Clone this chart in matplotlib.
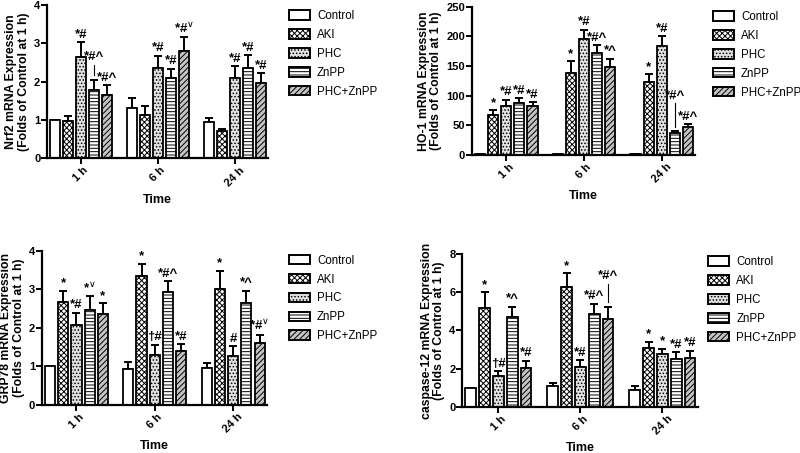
import matplotlib.pyplot as plt
import numpy as np
from matplotlib.patches import Patch

plt.rcParams['font.family'] = ['Liberation Sans', 'DejaVu Sans']
plt.rcParams['hatch.linewidth'] = 0.7

times = ['1 h', '6 h', '24 h']
groups = ['Control', 'AKI', 'PHC', 'ZnPP', 'PHC+ZnPP']

# values: rows = time points, columns = groups
nrf2 = [[1.0, 0.97, 2.65, 1.78, 1.65],
        [1.30, 1.13, 2.35, 2.10, 2.80],
        [0.93, 0.70, 2.10, 2.35, 1.97]]
nrf2_err = [[0.0, 0.13, 0.37, 0.26, 0.25],
            [0.26, 0.24, 0.32, 0.24, 0.36],
            [0.13, 0.07, 0.30, 0.34, 0.25]]
nrf2_sig = [['', '', '*#', '*#^', '*#^'],
            ['', '', '*#', '*#', '*#v'],
            ['', '', '*#', '*#', '*#']]

ho1 = [[1, 67, 83, 87, 82],
       [1, 139, 196, 172, 148],
       [1, 123, 183, 37, 47]]
ho1_err = [[0, 8, 10, 9, 7],
           [0, 19, 15, 13, 14],
           [0, 13, 17, 3, 5]]
ho1_sig = [['', '*', '*#', '*#', '*#'],
           ['', '*', '*#', '*#^', '*^'],
           ['', '*', '*#', '*#^', '*#^']]

grp78 = [[1.0, 2.67, 2.08, 2.47, 2.35],
         [0.93, 3.35, 1.30, 2.93, 1.40],
         [0.97, 3.02, 1.27, 2.66, 1.62]]
grp78_err = [[0.0, 0.29, 0.32, 0.36, 0.29],
             [0.19, 0.32, 0.26, 0.28, 0.18],
             [0.11, 0.46, 0.25, 0.31, 0.20]]
grp78_sig = [['', '*', '*#', '*v', '*'],
             ['', '*', '†#', '*#^', '*#'],
             ['', '*', '#', '*^', '*#v']]

casp12 = [[1.0, 5.2, 1.62, 4.72, 2.05],
          [1.1, 6.3, 2.10, 4.88, 4.60],
          [0.9, 3.1, 2.77, 2.52, 2.55]]
casp12_err = [[0.0, 0.8, 0.23, 0.53, 0.35],
              [0.15, 0.7, 0.35, 0.52, 0.65],
              [0.18, 0.3, 0.28, 0.33, 0.40]]
casp12_sig = [['', '*', '†#', '*^', '*#'],
              ['', '*', '*#', '*#^', '*#^'],
              ['', '*', '*', '*#', '*#']]

# labels lifted above the bar with a connector line: (time, group) -> lift as fraction of ymax
nrf2_lift = {(0, 3): 0.11}
ho1_lift = {(2, 3): 0.2}
grp78_lift = {}
casp12_lift = {(1, 4): 0.16}

faces = ['white', 'white', '#e2e2e2', 'white', '#c4c4c4']
hatches = [None, 'xxxxxx', '.....', '-----', '//////']

fig = plt.figure(figsize=(8, 4.53), dpi=100)


def panel(rect, data, err, sig, lift, ymax, ystep, ylabel, leg_xy):
    ax = fig.add_axes(rect)
    data = np.array(data, dtype=float)
    err = np.array(err, dtype=float)
    x = np.arange(len(times))
    step = 0.169
    w = 0.13
    for j in range(len(groups)):
        xs = x + (j - 2) * step
        ax.bar(xs, data[:, j], w, color=faces[j], edgecolor='black',
               hatch=hatches[j], linewidth=1.3, zorder=2)
        ax.errorbar(xs, data[:, j], yerr=[np.zeros(3), err[:, j]], fmt='none',
                    ecolor='black', elinewidth=1.4, capsize=3, capthick=1.4, zorder=1)
        for i in range(len(times)):
            s = sig[i][j]
            if not s:
                continue
            top = data[i, j] + err[i, j]
            off = ymax * 0.01
            if (i, j) in lift:
                up = lift[(i, j)]
                ax.plot([xs[i], xs[i]], [top + ymax * 0.03, top + ymax * (up - 0.01)],
                        color='black', lw=0.8)
                off = ymax * up
            ax.text(xs[i], top + off, s.replace('v', '$^{\\vee}$'), ha='center', va='bottom',
                    fontsize=9.5, fontweight='bold', clip_on=False)
    ax.set_xlim(-0.44, 2.43)
    ax.set_ylim(0, ymax)
    ax.set_yticks(np.arange(0, ymax + ystep / 2, ystep))
    ax.set_xticks(x)
    ax.set_xticklabels(times, rotation=45, fontweight='bold', fontsize=8, ha='center')
    for lab in ax.get_yticklabels():
        lab.set_fontweight('bold')
        lab.set_fontsize(8)
    for sp in ['top', 'right']:
        ax.spines[sp].set_visible(False)
    for sp in ['left', 'bottom']:
        ax.spines[sp].set_linewidth(1.6)
    ax.tick_params(width=1.4, length=4, pad=1)
    ax.set_xlabel('Time', fontweight='bold', fontsize=9, labelpad=4)
    ax.set_ylabel(ylabel + '\n(Folds of Control at 1 h)', fontweight='bold',
                  fontsize=8.8, labelpad=3, linespacing=1.05)
    handles = [Patch(facecolor=faces[j], edgecolor='black', hatch=hatches[j],
                     linewidth=1.4) for j in range(len(groups))]
    fig.legend(handles, groups, loc='upper left', bbox_to_anchor=leg_xy,
               frameon=False, fontsize=8.3, handlelength=1.85, handleheight=0.9,
               labelspacing=0.6, handletextpad=0.6, borderpad=0, borderaxespad=0)
    return ax


panel([0.059, 0.651, 0.276, 0.338], nrf2, nrf2_err, nrf2_sig, nrf2_lift,
      4, 1, 'Nrf2 mRNA Expression', (0.361, 0.978))
panel([0.590, 0.658, 0.279, 0.327], ho1, ho1_err, ho1_sig, ho1_lift,
      250, 50, 'HO-1 mRNA Expression', (0.891, 0.976))
panel([0.0525, 0.106, 0.281, 0.340], grp78, grp78_err, grp78_sig, grp78_lift,
      4, 1, 'GRP78 mRNA Expression', (0.361, 0.438))
panel([0.578, 0.102, 0.294, 0.337], casp12, casp12_err, casp12_sig, casp12_lift,
      8, 2, 'caspase-12 mRNA Expression', (0.885, 0.435))

fig.savefig('out.png', dpi=100)
